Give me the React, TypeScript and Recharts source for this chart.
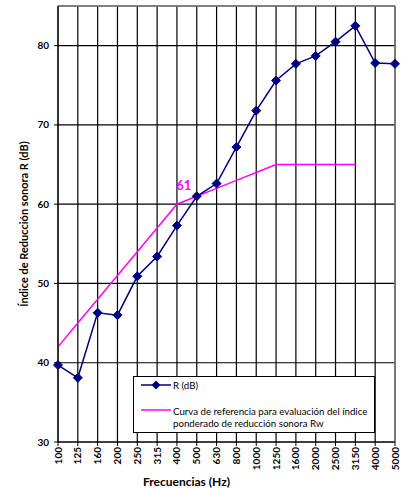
import React from "react";
import {
  CartesianGrid,
  Line,
  LineChart,
  ReferenceLine,
  XAxis,
  YAxis,
} from "recharts";

const FREQS = ["100", "125", "160", "200", "250", "315", "400", "500", "630", "800", "1000", "1250", "1600", "2000", "2500", "3150", "4000", "5000"];
const R_VALUES = [39.7, 38.1, 46.3, 46.0, 50.9, 53.4, 57.3, 61.0, 62.6, 67.2, 71.8, 75.6, 77.7, 78.7, 80.5, 82.5, 77.8, 77.7];
const REF_VALUES = [42, 45, 48, 51, 54, 57, 60, 61, 62, 63, 64, 65, 65, 65, 65, 65, null, null];
const Y_TICKS = [30, 40, 50, 60, 70, 80];
const Y_DOMAIN = [30, 85];
const RW_FREQ = "500";
const RW_LABEL = "61";

const R_NAME = "R (dB)";
const REF_NAME = "Curva de referencia para evaluación del índice ponderado de reducción sonora Rw";

const COLORS = {
  r: "#000080",
  ref: "#FF00FF",
  grid: "#000000",
  frame: "#808080",
  text: "#000000",
};

const FONT = "Lato, 'Open Sans', sans-serif";

const data = FREQS.map((f, i) => ({ f, r: R_VALUES[i], ref: REF_VALUES[i] }));

function Diamond(props: any) {
  const { cx, cy } = props;
  if (cx == null || cy == null) return <g />;
  const s = 4.5;
  return (
    <polygon
      points={`${cx},${cy - s} ${cx + s},${cy} ${cx},${cy + s} ${cx - s},${cy}`}
      fill={COLORS.r}
      stroke={COLORS.r}
    />
  );
}

function FreqTick(props: any) {
  const { x, y, payload } = props;
  return (
    <g transform={`translate(${x},${y + 1}) rotate(-90)`}>
      <text x={0} y={0} dy="0.35em" textAnchor="end" fontSize={10} fontWeight="bold" fill={COLORS.text} fontFamily={FONT}>
        {payload.value}
      </text>
    </g>
  );
}

function RwLabel(props: any) {
  const { x, y, index } = props;
  if (FREQS[index] !== RW_FREQ) return <g />;
  return (
    <text x={x - 13} y={y - 6} textAnchor="middle" fontSize={13} fontWeight="bold" fill={COLORS.ref} fontFamily={FONT}>
      {RW_LABEL}
    </text>
  );
}

function LegendBox() {
  return (
    <div
      style={{
        position: "absolute",
        left: 133,
        top: 376,
        width: 242,
        height: 57,
        border: "1px solid #000",
        background: "#fff",
        fontFamily: FONT,
        fontSize: 9.7,
        color: COLORS.text,
        boxSizing: "border-box",
      }}
    >
      <svg width={32} height={10} style={{ position: "absolute", left: 7, top: 3 }}>
        <line x1={0} y1={5} x2={30} y2={5} stroke={COLORS.r} strokeWidth={1.5} />
        <polygon points="15,0.5 19.5,5 15,9.5 10.5,5" fill={COLORS.r} />
      </svg>
      <div style={{ position: "absolute", left: 39, top: 2, lineHeight: "12px" }}>{R_NAME}</div>
      <svg width={32} height={10} style={{ position: "absolute", left: 7, top: 28 }}>
        <line x1={0} y1={5} x2={30} y2={5} stroke={COLORS.ref} strokeWidth={1.5} />
      </svg>
      <div style={{ position: "absolute", left: 39, top: 28, width: 200, lineHeight: "12px" }}>{REF_NAME}</div>
    </div>
  );
}

export default function App() {
  return (
    <div style={{ position: "absolute", left: 0, top: 0, width: 409, height: 488, background: "#fff" }}>
      <LineChart width={409} height={488} data={data} margin={{ top: 6, right: 14, bottom: 0, left: 0 }}>
        <CartesianGrid stroke={COLORS.grid} strokeWidth={1.2} />
        <XAxis
          dataKey="f"
          interval={0}
          tick={<FreqTick />}
          tickSize={4}
          tickMargin={0}
          height={46}
          stroke={COLORS.grid}
          tickLine={{ stroke: COLORS.grid }}
          label={{ value: "Frecuencias (Hz)", position: "insideBottom", offset: 2, dx: -40, fontSize: 12, fontWeight: "bold", fill: COLORS.text, fontFamily: FONT }}
        />
        <YAxis
          domain={Y_DOMAIN}
          ticks={Y_TICKS}
          width={58}
          tickSize={4}
          tickMargin={5}
          stroke={COLORS.grid}
          tick={{ fontSize: 10, fontWeight: "bold", fill: COLORS.text, fontFamily: FONT }}
          label={{ value: "Índice de Reducción sonora R (dB)", angle: -90, position: "insideLeft", offset: 24, dy: 0, fontSize: 11, fontWeight: "bold", fill: COLORS.text, fontFamily: FONT, style: { textAnchor: "middle" } }}
        />
        <ReferenceLine y={Y_DOMAIN[1]} stroke={COLORS.frame} strokeWidth={1.5} />
        <ReferenceLine x={FREQS[FREQS.length - 1]} stroke={COLORS.frame} strokeWidth={1.5} />
        <Line
          dataKey="ref"
          name={REF_NAME}
          stroke={COLORS.ref}
          strokeWidth={1.5}
          dot={false}
          activeDot={false}
          connectNulls={false}
          isAnimationActive={false}
          label={<RwLabel />}
        />
        <Line
          dataKey="r"
          name={R_NAME}
          stroke={COLORS.r}
          strokeWidth={1.5}
          dot={<Diamond />}
          activeDot={false}
          isAnimationActive={false}
        />
      </LineChart>
      <LegendBox />
    </div>
  );
}
